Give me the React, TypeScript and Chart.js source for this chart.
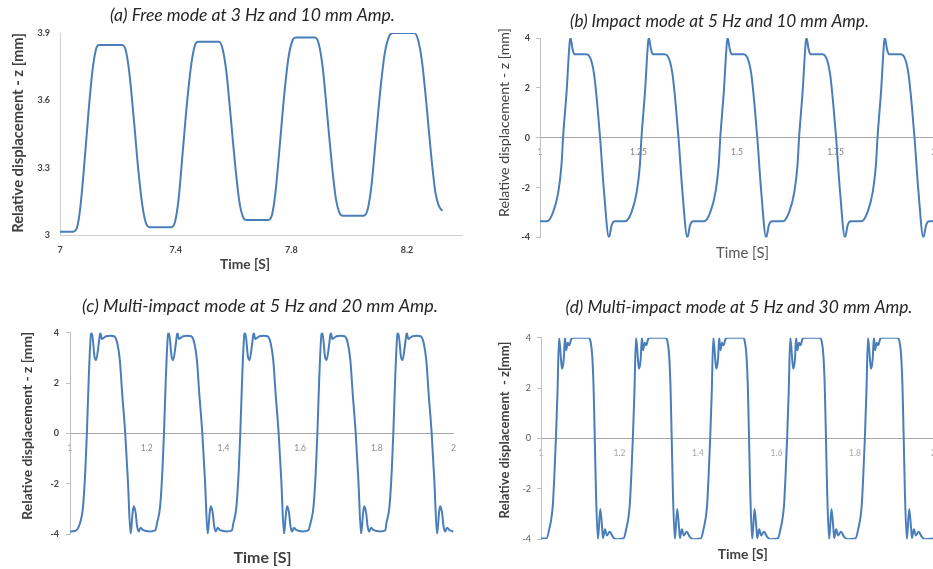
import React, { useEffect, useRef } from "react";
import { Chart, registerables } from "chart.js";

Chart.register(...registerables);

// ---------------- data ----------------
// (a) Free mode at 3 Hz and 10 mm Amp.
const aTime = [
  7.0, 7.045, 7.058, 7.07, 7.085, 7.1, 7.113, 7.125, 7.135,
  7.215, 7.228, 7.24, 7.255, 7.27, 7.285, 7.298, 7.31,
  7.385, 7.398, 7.41, 7.425, 7.44, 7.455, 7.468, 7.478,
  7.55, 7.562, 7.575, 7.59, 7.605, 7.62, 7.633, 7.645,
  7.72, 7.733, 7.745, 7.76, 7.775, 7.79, 7.805, 7.815,
  7.882, 7.895, 7.908, 7.923, 7.938, 7.953, 7.966, 7.978,
  8.05, 8.063, 8.077, 8.092, 8.108, 8.123, 8.14, 8.152,
  8.225, 8.238, 8.252, 8.268, 8.283, 8.298, 8.31, 8.322,
];
const aDisp = [
  3.015, 3.015, 3.03, 3.12, 3.33, 3.57, 3.74, 3.83, 3.846,
  3.846, 3.82, 3.72, 3.52, 3.3, 3.13, 3.05, 3.035,
  3.035, 3.06, 3.16, 3.38, 3.6, 3.77, 3.85, 3.861,
  3.861, 3.83, 3.73, 3.53, 3.32, 3.15, 3.08, 3.067,
  3.067, 3.09, 3.19, 3.4, 3.62, 3.79, 3.87, 3.88,
  3.88, 3.85, 3.75, 3.55, 3.34, 3.17, 3.1, 3.086,
  3.086, 3.11, 3.22, 3.43, 3.65, 3.81, 3.89, 3.9,
  3.9, 3.87, 3.77, 3.57, 3.36, 3.19, 3.13, 3.108,
];
const aXTicks = [7, 7.4, 7.8, 8.2];
const aYTicks = [3, 3.3, 3.6, 3.9];

// (b) Impact mode at 5 Hz and 10 mm Amp.
const bTime = [
  1.0,
  1.0175, 1.0335, 1.0465, 1.0545, 1.0585, 1.0675, 1.0755, 1.0775, 1.0825, 1.0875, 1.1175, 1.1295, 1.1375, 1.1455, 1.1525, 1.1625, 1.175, 1.182, 1.19,
  1.2165, 1.2325, 1.2455, 1.2535, 1.2575, 1.2665, 1.2745, 1.2765, 1.2815, 1.2865, 1.3165, 1.3285, 1.3365, 1.3445, 1.3515, 1.3615, 1.374, 1.381, 1.389,
  1.4165, 1.4325, 1.4455, 1.4535, 1.4575, 1.4665, 1.4745, 1.4765, 1.4815, 1.4865, 1.5165, 1.5285, 1.5365, 1.5445, 1.5515, 1.5615, 1.574, 1.581, 1.589,
  1.6165, 1.6325, 1.6455, 1.6535, 1.6575, 1.6665, 1.6745, 1.6765, 1.6815, 1.6865, 1.7165, 1.7285, 1.7365, 1.7445, 1.7515, 1.7615, 1.774, 1.781, 1.789,
  1.8155, 1.8315, 1.8445, 1.8525, 1.8565, 1.8655, 1.8735, 1.8755, 1.8805, 1.8855, 1.9155, 1.9275, 1.9355, 1.9435, 1.9505, 1.9605, 1.973, 1.98, 1.988,
  2.0,
];
const bDisp = [
  -3.35,
  -3.35, -2.97, -2.17, -1.1, 0, 1.85, 3.86, 4, 3.56, 3.35, 3.35, 3.12, 2.52, 1.31, 0, -2.17, -4, -3.5, -3.35,
  -3.35, -2.97, -2.17, -1.1, 0, 1.85, 3.86, 4, 3.56, 3.35, 3.35, 3.12, 2.52, 1.31, 0, -2.17, -4, -3.5, -3.35,
  -3.35, -2.97, -2.17, -1.1, 0, 1.85, 3.86, 4, 3.56, 3.35, 3.35, 3.12, 2.52, 1.31, 0, -2.17, -4, -3.5, -3.35,
  -3.35, -2.97, -2.17, -1.1, 0, 1.85, 3.86, 4, 3.56, 3.35, 3.35, 3.12, 2.52, 1.31, 0, -2.17, -4, -3.5, -3.35,
  -3.35, -2.97, -2.17, -1.1, 0, 1.85, 3.86, 4, 3.56, 3.35, 3.35, 3.12, 2.52, 1.31, 0, -2.17, -4, -3.5, -3.35,
  -3.35,
];
const bXTicks = [1, 1.25, 1.5, 1.75, 2];
const bYTicks = [-4, -2, 0, 2, 4];

// (c) Multi-impact mode at 5 Hz and 20 mm Amp.
const cTime = [
  1.0, 1.013,
  1.026, 1.034, 1.04, 1.044, 1.049, 1.055, 1.057, 1.064, 1.068, 1.075, 1.079, 1.083, 1.088, 1.094, 1.105, 1.115, 1.123, 1.13, 1.136, 1.144, 1.151, 1.158, 1.163, 1.166, 1.171, 1.175, 1.179, 1.184, 1.191, 1.208, 1.222,
  1.227, 1.235, 1.241, 1.245, 1.25, 1.256, 1.258, 1.265, 1.269, 1.276, 1.28, 1.284, 1.289, 1.295, 1.306, 1.316, 1.324, 1.331, 1.337, 1.345, 1.352, 1.359, 1.364, 1.367, 1.372, 1.376, 1.38, 1.385, 1.392, 1.409, 1.422,
  1.426, 1.434, 1.44, 1.444, 1.449, 1.455, 1.457, 1.464, 1.468, 1.475, 1.479, 1.483, 1.488, 1.494, 1.505, 1.515, 1.523, 1.53, 1.536, 1.544, 1.551, 1.558, 1.563, 1.566, 1.571, 1.575, 1.579, 1.584, 1.591, 1.608, 1.621,
  1.627, 1.635, 1.641, 1.645, 1.65, 1.656, 1.658, 1.665, 1.669, 1.676, 1.68, 1.684, 1.689, 1.695, 1.706, 1.716, 1.724, 1.731, 1.737, 1.745, 1.752, 1.759, 1.764, 1.767, 1.772, 1.776, 1.78, 1.785, 1.792, 1.809, 1.822,
  1.825, 1.833, 1.839, 1.843, 1.848, 1.854, 1.856, 1.863, 1.867, 1.874, 1.878, 1.882, 1.887, 1.893, 1.904, 1.914, 1.922, 1.929, 1.935, 1.943, 1.95, 1.957, 1.962, 1.965, 1.97, 1.974, 1.978, 1.983, 1.99, 2.0,
];
const cDisp = [
  -3.9, -3.88,
  -3.57, -2.9, -1.46, 0, 2.25, 3.97, 4, 3.04, 2.91, 3.57, 4, 3.75, 3.8, 3.86, 3.88, 3.86, 3.6, 2.9, 1.6, 0, -1.9, -4, -3.2, -2.9, -3.15, -3.7, -3.9, -3.75, -3.85, -3.9, -3.86,
  -3.57, -2.9, -1.46, 0, 2.25, 3.97, 4, 3.04, 2.91, 3.57, 4, 3.75, 3.8, 3.86, 3.88, 3.86, 3.6, 2.9, 1.6, 0, -1.9, -4, -3.2, -2.9, -3.15, -3.7, -3.9, -3.75, -3.85, -3.9, -3.86,
  -3.57, -2.9, -1.46, 0, 2.25, 3.97, 4, 3.04, 2.91, 3.57, 4, 3.75, 3.8, 3.86, 3.88, 3.86, 3.6, 2.9, 1.6, 0, -1.9, -4, -3.2, -2.9, -3.15, -3.7, -3.9, -3.75, -3.85, -3.9, -3.86,
  -3.57, -2.9, -1.46, 0, 2.25, 3.97, 4, 3.04, 2.91, 3.57, 4, 3.75, 3.8, 3.86, 3.88, 3.86, 3.6, 2.9, 1.6, 0, -1.9, -4, -3.2, -2.9, -3.15, -3.7, -3.9, -3.75, -3.85, -3.9, -3.86,
  -3.57, -2.9, -1.46, 0, 2.25, 3.97, 4, 3.04, 2.91, 3.57, 4, 3.75, 3.8, 3.86, 3.88, 3.86, 3.6, 2.9, 1.6, 0, -1.9, -4, -3.2, -2.9, -3.15, -3.7, -3.9, -3.75, -3.85, -3.9,
];
const cXTicks = [1, 1.2, 1.4, 1.6, 1.8, 2];
const cYTicks = [-4, -2, 0, 2, 4];

// (d) Multi-impact mode at 5 Hz and 30 mm Amp.
const dTime = [
  1.0,
  1.014, 1.021, 1.03, 1.034, 1.038, 1.042, 1.046, 1.052, 1.054, 1.058, 1.061, 1.064, 1.068, 1.072, 1.077, 1.082, 1.121, 1.126, 1.1305, 1.134, 1.137, 1.14, 1.145, 1.151, 1.156, 1.158, 1.163, 1.168, 1.175, 1.183, 1.191,
  1.21, 1.217, 1.226, 1.23, 1.234, 1.238, 1.242, 1.248, 1.25, 1.254, 1.257, 1.26, 1.264, 1.268, 1.273, 1.278, 1.317, 1.322, 1.3265, 1.33, 1.333, 1.336, 1.341, 1.347, 1.352, 1.354, 1.359, 1.364, 1.371, 1.379, 1.387,
  1.407, 1.414, 1.423, 1.427, 1.431, 1.435, 1.439, 1.445, 1.447, 1.451, 1.454, 1.457, 1.461, 1.465, 1.47, 1.475, 1.514, 1.519, 1.5235, 1.527, 1.53, 1.533, 1.538, 1.544, 1.549, 1.551, 1.556, 1.561, 1.568, 1.576, 1.584,
  1.603, 1.61, 1.619, 1.623, 1.627, 1.631, 1.635, 1.641, 1.643, 1.647, 1.65, 1.653, 1.657, 1.661, 1.666, 1.671, 1.71, 1.715, 1.7195, 1.723, 1.726, 1.729, 1.734, 1.74, 1.745, 1.747, 1.752, 1.757, 1.764, 1.772, 1.78,
  1.801, 1.808, 1.817, 1.821, 1.825, 1.829, 1.833, 1.839, 1.841, 1.845, 1.848, 1.851, 1.855, 1.859, 1.864, 1.869, 1.908, 1.913, 1.9175, 1.921, 1.924, 1.927, 1.932, 1.938, 1.943, 1.945, 1.95, 1.955, 1.962, 1.97, 1.978,
  2.0,
];
const dDisp = [
  -3.97,
  -3.97, -3.6, -2.67, -1.48, 0, 1.83, 4, 2.95, 2.77, 3.16, 4, 3.5, 3.8, 3.7, 3.95, 4, 4, 3.87, 3.28, 2.0, 0, -2.1, -4, -2.8, -3.6, -3.95, -3.6, -3.85, -3.7, -3.9, -4,
  -3.97, -3.6, -2.67, -1.48, 0, 1.83, 4, 2.95, 2.77, 3.16, 4, 3.5, 3.8, 3.7, 3.95, 4, 4, 3.87, 3.28, 2.0, 0, -2.1, -4, -2.8, -3.6, -3.95, -3.6, -3.85, -3.7, -3.9, -4,
  -3.97, -3.6, -2.67, -1.48, 0, 1.83, 4, 2.95, 2.77, 3.16, 4, 3.5, 3.8, 3.7, 3.95, 4, 4, 3.87, 3.28, 2.0, 0, -2.1, -4, -2.8, -3.6, -3.95, -3.6, -3.85, -3.7, -3.9, -4,
  -3.97, -3.6, -2.67, -1.48, 0, 1.83, 4, 2.95, 2.77, 3.16, 4, 3.5, 3.8, 3.7, 3.95, 4, 4, 3.87, 3.28, 2.0, 0, -2.1, -4, -2.8, -3.6, -3.95, -3.6, -3.85, -3.7, -3.9, -4,
  -3.97, -3.6, -2.67, -1.48, 0, 1.83, 4, 2.95, 2.77, 3.16, 4, 3.5, 3.8, 3.7, 3.95, 4, 4, 3.87, 3.28, 2.0, 0, -2.1, -4, -2.8, -3.6, -3.95, -3.6, -3.85, -3.7, -3.9, -4,
  -3.97,
];
const dXTicks = [1, 1.2, 1.4, 1.6, 1.8, 2];
const dYTicks = [-4, -2, 0, 2, 4];

// ---------------- text ----------------
const titleA = "(a) Free mode at 3 Hz and 10 mm Amp.";
const titleB = "(b) Impact mode at 5 Hz and 10 mm Amp.";
const titleC = "(c) Multi-impact mode at 5 Hz and 20 mm Amp.";
const titleD = "(d) Multi-impact mode at 5 Hz and 30 mm Amp.";
const yTitleABC = "Relative displacement - z [mm]";
const yTitleD = "Relative displacement  - z[mm]";
const xTitle = "Time [S]";

// ---------------- styling / layout ----------------
const FONT = "Lato, 'Open Sans', 'DejaVu Sans', sans-serif";
const LINE_COLOR = "#4a7ebb";

type TextItem = {
  text: string; x: number; y: number; w: number;
  italic?: boolean; bold?: boolean; color: string; rotate?: boolean;
};
type TickStyle = { size: number; bold: boolean; color: string; padding: number; tickLen: number };
type Panel = {
  time: number[]; disp: number[];
  xTicks: number[]; yTicks: number[];
  xMin: number; xMax: number; yMin: number; yMax: number;
  box: { left: number; top: number; width: number; height: number };
  area: { left: number; right: number; top: number; bottom: number };
  xAtZero: boolean;
  xTick: TickStyle; yTick: TickStyle;
  xAxisColor: string; yAxisColor: string;
  texts: TextItem[];
};

const panels: Panel[] = [
  {
    time: aTime, disp: aDisp, xTicks: aXTicks, yTicks: aYTicks,
    xMin: 7, xMax: 8.39, yMin: 3, yMax: 3.9,
    box: { left: 0, top: 0, width: 466, height: 285 },
    area: { left: 60, right: 462, top: 33, bottom: 235 },
    xAtZero: false,
    xTick: { size: 9, bold: true, color: "#404040", padding: 10, tickLen: 0 },
    yTick: { size: 9, bold: true, color: "#404040", padding: 10, tickLen: 0 },
    xAxisColor: "#d0d0d0", yAxisColor: "#d0d0d0",
    texts: [
      { text: titleA, x: 252.5, y: 15, w: 285, italic: true, color: "#262626" },
      { text: yTitleABC, x: 18.5, y: 133, w: 200, bold: true, color: "#404040", rotate: true },
      { text: xTitle, x: 245, y: 265, w: 50, bold: true, color: "#404040" },
    ],
  },
  {
    time: bTime, disp: bDisp, xTicks: bXTicks, yTicks: bYTicks,
    xMin: 1, xMax: 2, yMin: -4, yMax: 4,
    box: { left: 466, top: 0, width: 480, height: 285 },
    area: { left: 74, right: 474, top: 38, bottom: 237.5 },
    xAtZero: true,
    xTick: { size: 8.5, bold: false, color: "#7f7f7f", padding: 9.5, tickLen: 0 },
    yTick: { size: 9, bold: true, color: "#404040", padding: 6, tickLen: 4 },
    xAxisColor: "#a6a6a6", yAxisColor: "#bfbfbf",
    texts: [
      { text: titleB, x: 719.5, y: 21.7, w: 299, italic: true, color: "#262626" },
      { text: yTitleABC, x: 504.7, y: 122.5, w: 189, color: "#404040", rotate: true },
      { text: xTitle, x: 742.5, y: 253.3, w: 53, color: "#595959" },
    ],
  },
  {
    time: cTime, disp: cDisp, xTicks: cXTicks, yTicks: cYTicks,
    xMin: 1, xMax: 2, yMin: -4, yMax: 4,
    box: { left: 0, top: 285, width: 466, height: 284 },
    area: { left: 70, right: 461, top: 47.7, bottom: 249 },
    xAtZero: true,
    xTick: { size: 8.5, bold: false, color: "#8c8c8c", padding: 10, tickLen: 0 },
    yTick: { size: 9, bold: true, color: "#404040", padding: 7, tickLen: 4 },
    xAxisColor: "#a6a6a6", yAxisColor: "#bfbfbf",
    texts: [
      { text: titleC, x: 260, y: 306.7, w: 356, italic: true, color: "#262626" },
      { text: yTitleABC, x: 27.5, y: 425.8, w: 188, bold: true, color: "#404040", rotate: true },
      { text: xTitle, x: 262.5, y: 558.3, w: 58, bold: true, color: "#404040" },
    ],
  },
  {
    time: dTime, disp: dDisp, xTicks: dXTicks, yTicks: dYTicks,
    xMin: 1, xMax: 2, yMin: -4, yMax: 4,
    box: { left: 466, top: 285, width: 480, height: 284 },
    area: { left: 75, right: 478, top: 52.7, bottom: 254.3 },
    xAtZero: true,
    xTick: { size: 8.5, bold: false, color: "#a6a6a6", padding: 10, tickLen: 0 },
    yTick: { size: 9, bold: false, color: "#595959", padding: 6, tickLen: 4 },
    xAxisColor: "#a6a6a6", yAxisColor: "#bfbfbf",
    texts: [
      { text: titleD, x: 739, y: 307.7, w: 347, italic: true, color: "#262626" },
      { text: yTitleD, x: 505, y: 430, w: 177, bold: true, color: "#404040", rotate: true },
      { text: xTitle, x: 742.7, y: 555, w: 50, bold: true, color: "#404040" },
    ],
  },
];

const fmt = (v: number | string) => String(Math.round(Number(v) * 100) / 100);

const panelText = {
  id: "panelText",
  afterDraw(chart: any, _args: any, opts: any) {
    const ctx: CanvasRenderingContext2D = chart.ctx;
    const items: TextItem[] = opts.items || [];
    const ox: number = opts.offsetX || 0;
    const oy: number = opts.offsetY || 0;
    for (const t of items) {
      const fontOf = (s: number) =>
        `${t.italic ? "italic " : ""}${t.bold ? "bold " : ""}${s}px ${FONT}`;
      ctx.save();
      ctx.font = fontOf(20);
      const m = ctx.measureText(t.text).width || 1;
      const size = (20 * t.w) / m;
      ctx.font = fontOf(size);
      ctx.fillStyle = t.color;
      ctx.textAlign = "center";
      ctx.textBaseline = "middle";
      ctx.translate(t.x - ox, t.y - oy);
      if (t.rotate) ctx.rotate(-Math.PI / 2);
      ctx.fillText(t.text, 0, 0);
      ctx.restore();
    }
  },
};

function buildConfig(p: Panel): any {
  const { box, area } = p;
  const points = p.time.map((t, i) => ({ x: t, y: p.disp[i] }));
  const xHeight = box.height - area.bottom;
  return {
    type: "line",
    data: {
      datasets: [
        {
          data: points,
          borderColor: LINE_COLOR,
          borderWidth: 2,
          pointRadius: 0,
          fill: false,
          cubicInterpolationMode: "monotone",
        },
      ],
    },
    options: {
      animation: false,
      responsive: false,
      maintainAspectRatio: false,
      events: [],
      layout: {
        padding: {
          left: 0,
          top: area.top,
          right: box.width - area.right,
          bottom: p.xAtZero ? box.height - area.bottom : 0,
        },
      },
      plugins: {
        legend: { display: false },
        tooltip: { enabled: false },
        title: { display: false },
        panelText: { items: p.texts, offsetX: box.left, offsetY: box.top },
      },
      scales: {
        x: {
          type: "linear",
          min: p.xMin,
          max: p.xMax,
          position: p.xAtZero ? { y: 0 } : "bottom",
          afterFit: p.xAtZero
            ? undefined
            : (s: any) => {
                s.height = xHeight;
              },
          afterBuildTicks: (s: any) => {
            s.ticks = p.xTicks.map((v) => ({ value: v }));
          },
          grid: { display: false, drawTicks: false, drawOnChartArea: false },
          border: { display: true, color: p.xAxisColor, width: 1 },
          ticks: {
            autoSkip: false,
            maxRotation: 0,
            minRotation: 0,
            includeBounds: false,
            padding: p.xTick.padding,
            color: p.xTick.color,
            font: { family: FONT, size: p.xTick.size, weight: p.xTick.bold ? "bold" : "normal" },
            callback: (v: any) => fmt(v),
          },
        },
        y: {
          type: "linear",
          min: p.yMin,
          max: p.yMax,
          position: "left",
          afterFit: (s: any) => {
            s.width = area.left;
          },
          afterBuildTicks: (s: any) => {
            s.ticks = p.yTicks.map((v) => ({ value: v }));
          },
          grid: {
            display: p.yTick.tickLen > 0,
            drawOnChartArea: false,
            drawTicks: p.yTick.tickLen > 0,
            tickLength: p.yTick.tickLen,
            color: p.yAxisColor,
          },
          border: { display: true, color: p.yAxisColor, width: 1 },
          ticks: {
            autoSkip: false,
            padding: p.yTick.padding,
            color: p.yTick.color,
            font: { family: FONT, size: p.yTick.size, weight: p.yTick.bold ? "bold" : "normal" },
            callback: (v: any) => fmt(v),
          },
        },
      },
    },
    plugins: [panelText],
  };
}

function PanelChart({ p }: { p: Panel }) {
  const ref = useRef<HTMLCanvasElement | null>(null);
  useEffect(() => {
    if (!ref.current) return;
    const chart = new Chart(ref.current, buildConfig(p));
    return () => chart.destroy();
  }, [p]);
  return (
    <canvas
      ref={ref}
      width={p.box.width}
      height={p.box.height}
      style={{
        position: "absolute",
        left: p.box.left,
        top: p.box.top,
        width: p.box.width,
        height: p.box.height,
      }}
    />
  );
}

export default function App() {
  return (
    <div
      style={{
        position: "absolute",
        left: 0,
        top: 0,
        width: 933,
        height: 569,
        overflow: "hidden",
        background: "#ffffff",
      }}
    >
      {panels.map((p, i) => (
        <PanelChart key={i} p={p} />
      ))}
    </div>
  );
}
